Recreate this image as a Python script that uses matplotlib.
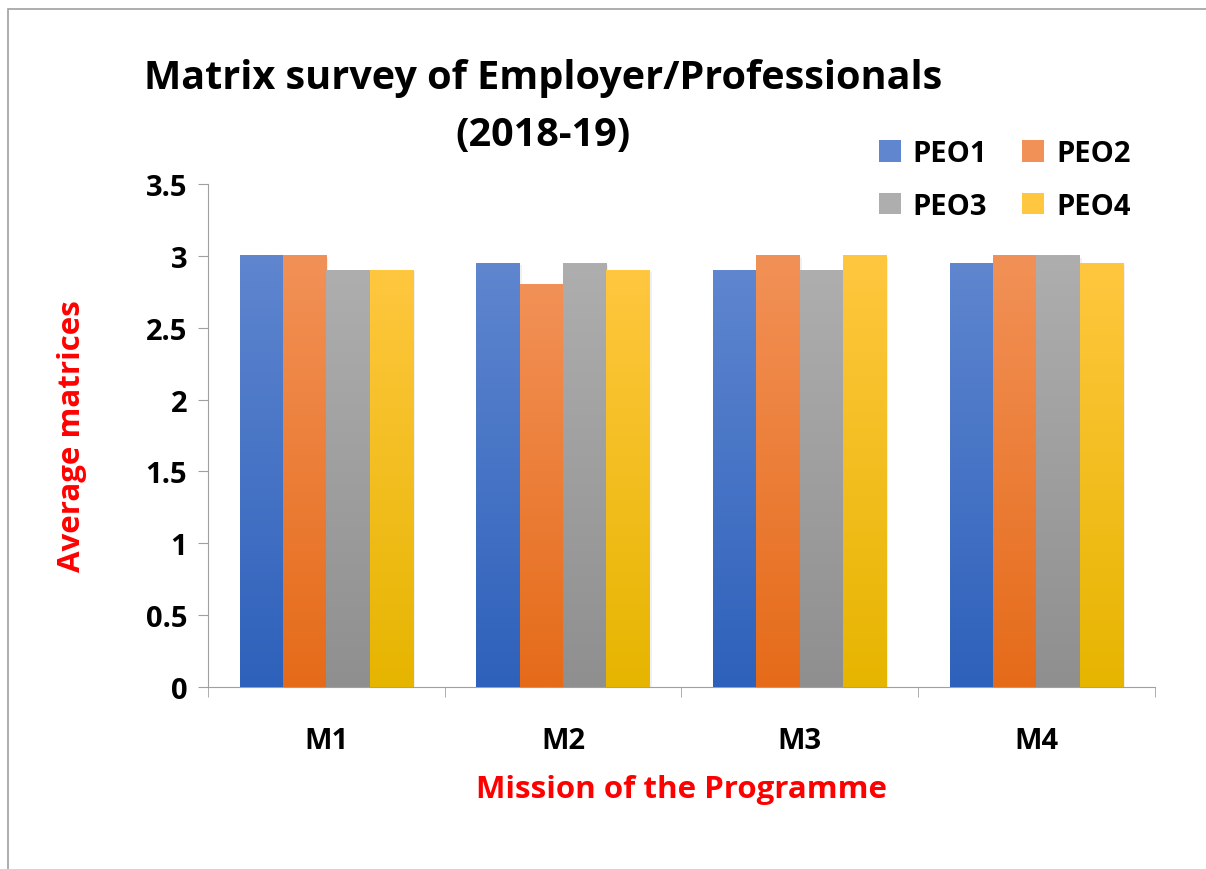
import numpy as np
import matplotlib
matplotlib.use("Agg")
import matplotlib.pyplot as plt
from matplotlib.patches import Rectangle
from matplotlib.colors import LinearSegmentedColormap

plt.rcParams['font.family'] = ['Open Sans', 'DejaVu Sans']
plt.rcParams['font.weight'] = 'bold'

missions = ["M1", "M2", "M3", "M4"]
series = ["PEO1", "PEO2", "PEO3", "PEO4"]
peo1 = [3.0, 2.95, 2.9, 2.95]
peo2 = [3.0, 2.8, 3.0, 3.0]
peo3 = [2.9, 2.95, 2.9, 3.0]
peo4 = [2.9, 2.9, 3.0, 2.95]
yticks = [0, 0.5, 1, 1.5, 2, 2.5, 3, 3.5]
ytick_labels = ["0", "0.5", "1", "1.5", "2", "2.5", "3", "3.5"]

# (top colour, bottom colour) for the gradient fill
grads = [("#5f86cf", "#2e61bb"),
         ("#f29157", "#e56b19"),
         ("#aeaeae", "#8f8f8f"),
         ("#ffc73f", "#e6b500")]

fig = plt.figure(figsize=(12.06, 8.7), dpi=100)
ax = fig.add_axes([0.1725, 0.2092, 0.785, 0.5782])

# chart frame
fig.patches.append(Rectangle((8 / 1206, -0.1), 1.2, 1 - 10 / 870 + 0.1,
                             transform=fig.transFigure, fill=False,
                             edgecolor="#a0a0a0", linewidth=1.2))

x = np.arange(len(missions))
width = 0.183
values = [peo1, peo2, peo3, peo4]
grad = np.linspace(1, 0, 256).reshape(-1, 1)
for i, (vals, (ctop, cbot)) in enumerate(zip(values, grads)):
    pos = x + (i - 1.5) * width
    # soft shadow
    ax.bar(pos + 0.008, vals, width, bottom=-0.015, color="black", alpha=0.06,
           zorder=1, linewidth=0)
    bars = ax.bar(pos, vals, width, color=cbot, label=series[i], zorder=2,
                  linewidth=0)
    cmap = LinearSegmentedColormap.from_list("g%d" % i, [cbot, ctop])
    for b in bars:
        x0, y0 = b.get_x(), b.get_y()
        ax.imshow(grad, cmap=cmap, aspect="auto", zorder=3,
                  extent=[x0, x0 + b.get_width(), y0, y0 + b.get_height()],
                  vmin=0, vmax=1)

ax.set_xlim(-0.5, 3.5)
ax.set_ylim(0, 3.5)
ax.set_yticks(yticks)
ax.set_yticklabels(ytick_labels, fontsize=21, fontweight="bold")
ax.set_xticks(x)
ax.set_xticklabels(missions, fontsize=21, fontweight="bold")
ax.set_xticks(np.arange(-0.5, 4.0, 1.0), minor=True)
ax.tick_params(axis="x", which="major", length=0, pad=28)
ax.tick_params(axis="x", which="minor", length=7, color="#a0a0a0")
ax.tick_params(axis="y", length=7, color="#a0a0a0", pad=8)

for s in ["top", "right"]:
    ax.spines[s].set_visible(False)
ax.spines["left"].set_color("#a0a0a0")
ax.spines["bottom"].set_color("#a0a0a0")

ax.set_xlabel("Mission of the Programme", color="red", fontsize=22.5,
              fontweight="bold", labelpad=14)
ax.set_ylabel("Average matrices", color="red", fontsize=22.5,
              fontweight="bold")
ax.yaxis.set_label_coords(-0.128, 0.5)

# title, two lines
fig.text(543 / 1206, 1 - 78 / 870, "Matrix survey of Employer/Professionals",
         ha="center", va="center", fontsize=28.5, fontweight="bold")
fig.text(543 / 1206, 1 - 136 / 870, "(2018-19)",
         ha="center", va="center", fontsize=28.5, fontweight="bold")

handles, labels = ax.get_legend_handles_labels()
order = [0, 2, 1, 3]
leg = fig.legend([handles[k] for k in order], [labels[k] for k in order],
                 ncol=2, loc="upper left",
                 bbox_to_anchor=(853 / 1206, 1 - 114 / 870), frameon=False,
                 prop={"size": 21, "weight": "bold"}, handlelength=0.75,
                 handleheight=0.75, columnspacing=1.2, labelspacing=0.8,
                 handletextpad=0.4)
for h, k in zip(leg.legend_handles, order):
    h.set_color(grads[k][0])

fig.savefig("out.png", dpi=100)
